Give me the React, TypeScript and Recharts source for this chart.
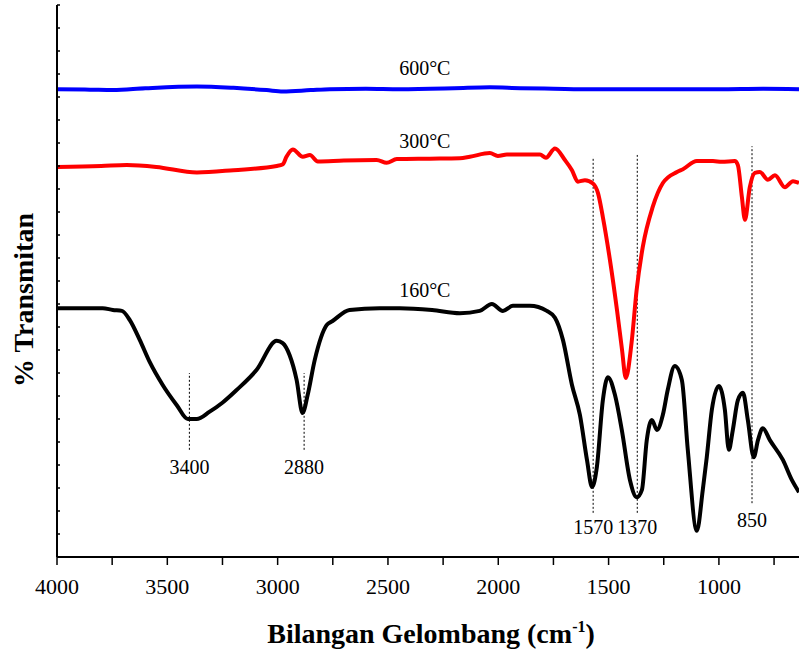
import React from 'react';
import { LineChart, Line, XAxis, YAxis, ReferenceLine, ReferenceDot } from 'recharts';

const FONT = '"Liberation Serif", "Times New Roman", Times, serif';

// 160°C spectrum (wavenumber cm-1, %T arbitrary units)
const wn160 = [4000, 3793, 3747, 3706, 3670, 3625, 3580, 3521, 3457, 3407, 3367, 3308, 3249, 3186, 3095, 3004, 2977, 2946, 2914, 2887, 2864, 2832, 2778, 2751, 2674, 2538, 2446, 2300, 2174, 2084, 2029, 1979, 1934, 1857, 1780, 1743, 1707, 1666, 1630, 1598, 1575, 1553, 1526, 1503, 1471, 1440, 1403, 1372, 1349, 1327, 1304, 1281, 1254, 1232, 1200, 1168, 1141, 1100, 1073, 1055, 1032, 1000, 973, 955, 937, 914, 891, 869, 842, 823, 801, 769, 710, 669, 637];
const t160 = [54.1, 54.1, 53.7, 53.5, 51.5, 47.2, 42.4, 37.4, 33.0, 30.0, 30.0, 31.6, 33.6, 36.3, 40.7, 47.0, 46.5, 43.9, 38.5, 31.3, 35.2, 42.8, 50.4, 51.3, 53.7, 54.1, 54.1, 53.7, 53.0, 53.5, 55.0, 53.5, 54.6, 54.6, 53.5, 52.0, 47.2, 37.4, 30.9, 21.1, 15.2, 19.6, 34.1, 39.1, 35.2, 27.6, 16.7, 13.0, 14.6, 25.4, 29.8, 27.6, 30.9, 36.3, 41.5, 38.5, 23.3, 5.7, 14.6, 21.7, 32.0, 37.2, 32.0, 23.3, 27.6, 34.1, 35.7, 29.8, 21.7, 25.4, 28.0, 25.4, 21.1, 16.7, 14.1];

// 300°C spectrum
const wn300 = [4000, 3800, 3684, 3550, 3366, 3200, 3004, 2976, 2960, 2931, 2886, 2854, 2818, 2700, 2551, 2506, 2460, 2310, 2174, 2129, 2038, 2002, 1961, 1811, 1784, 1743, 1698, 1666, 1639, 1607, 1571, 1548, 1526, 1494, 1462, 1439, 1422, 1396, 1373, 1345, 1300, 1254, 1190, 1163, 1100, 1027, 987, 928, 914, 896, 882, 860, 837, 814, 778, 746, 701, 664, 637];
const t300 = [84.8, 85.0, 85.2, 84.8, 83.6, 84.1, 85.0, 85.4, 87.0, 88.6, 87.0, 87.4, 86.0, 86.2, 86.3, 85.7, 86.5, 86.6, 86.7, 87.0, 87.8, 87.2, 87.5, 87.5, 86.8, 88.8, 86.3, 84.1, 81.6, 81.9, 81.2, 79.1, 73.9, 64.6, 53.7, 45.0, 38.9, 46.5, 58.0, 67.4, 76.1, 81.3, 83.7, 84.3, 86.1, 86.1, 85.9, 86.1, 85.2, 78.3, 73.3, 80.4, 83.5, 83.7, 82.0, 83.0, 80.4, 81.7, 81.3];

// 600°C spectrum
const wn600 = [4000, 3850, 3747, 3600, 3366, 3200, 3050, 2976, 2850, 2763, 2600, 2446, 2200, 2038, 1900, 1750, 1571, 1300, 1000, 800, 637];
const t600 = [101.7, 101.6, 101.5, 101.9, 102.3, 102.0, 101.5, 101.2, 101.5, 101.7, 101.8, 101.7, 101.9, 102.1, 101.9, 101.8, 101.7, 101.7, 101.7, 101.8, 101.7];

const xTicks = [4000, 3750, 3500, 3250, 3000, 2750, 2500, 2250, 2000, 1750, 1500, 1250, 1000, 750];
const yTicks = [0, 5, 10, 15, 20, 25, 30, 35, 40, 45, 50, 55, 60, 65, 70, 75, 80, 85, 90, 95, 100, 105, 110, 115, 120];

// peak markers
const peakWn = [3400, 2880, 1570, 1370, 850];
const peakLow = [23.3, 23.3, 9.6, 9.6, 11.7];
const peakHigh = [40.0, 40.0, 87.0, 87.4, 89.3];
const peakLabelT = [18.0, 18.0, 5.0, 5.0, 6.5];

// series labels
const seriesNames = ['600°C', '300°C', '160°C'];
const seriesLabelWn = [2333, 2333, 2333];
const seriesLabelT = [104.8, 88.9, 56.5];

const zip = (xs: number[], ys: number[]) => xs.map((wn, i) => ({ wn, t: ys[i] }));
const d160 = zip(wn160, t160);
const d300 = zip(wn300, t300);
const d600 = zip(wn600, t600);

const BottomTick = (props: any) => {
  const { x, y, payload } = props;
  const v = payload.value;
  return (
    <g>
      <line x1={x} x2={x} y1={y} y2={y + 8} stroke="#000" strokeWidth={1.5} />
      {v % 500 === 0 && (
        <text x={x} y={y + 37} textAnchor="middle" fontFamily={FONT} fontSize={22} fill="#000">
          {v}
        </text>
      )}
    </g>
  );
};

const TopTick = (props: any) => {
  const { x, y } = props;
  return <line x1={x} x2={x} y1={y} y2={y + 4} stroke="#000" strokeWidth={1.5} />;
};

const LeftTick = (props: any) => {
  const { x, y } = props;
  return <line x1={x} x2={x + 3} y1={y} y2={y} stroke="#000" strokeWidth={1.5} />;
};

const XTitle = (props: any) => {
  const vb = props.viewBox || { x: 57, y: 557, width: 742, height: 94 };
  const cx = vb.x + vb.width / 2 + 3;
  const cy = vb.y + 86;
  return (
    <text x={cx} y={cy} textAnchor="middle" fontFamily={FONT} fontWeight="bold" fontSize={28} fill="#000">
      Bilangan Gelombang (cm
      <tspan dy={-11} fontSize={16}>-1</tspan>
      <tspan dy={11}>)</tspan>
    </text>
  );
};

const YTitle = (props: any) => {
  const vb = props.viewBox || { x: 0, y: 5, width: 57, height: 552 };
  const x = vb.x + 33;
  const y = vb.y + 295;
  return (
    <text
      x={x}
      y={y}
      transform={`rotate(-90, ${x}, ${y})`}
      textAnchor="middle"
      fontFamily={FONT}
      fontWeight="bold"
      fontSize={28}
      fill="#000"
    >
      % Transmitan
    </text>
  );
};

const makeTextLabel = (text: string) => (props: any) => {
  const vb = props.viewBox || { x: 0, y: 0, width: 0, height: 0 };
  const cx = vb.x + (vb.width || 0) / 2;
  const cy = vb.y + (vb.height || 0) / 2;
  return (
    <text x={cx} y={cy} textAnchor="middle" fontFamily={FONT} fontSize={20} fill="#000">
      {text}
    </text>
  );
};

export default function App() {
  return (
    <div style={{ position: 'absolute', left: 0, top: 0, background: '#fff' }}>
      <LineChart width={799} height={651} margin={{ top: 5, right: 0, bottom: 0, left: 0 }}>
        <XAxis
          xAxisId={0}
          dataKey="wn"
          type="number"
          domain={[637, 4000]}
          reversed
          allowDataOverflow
          ticks={xTicks}
          interval={0}
          height={94}
          tickSize={0}
          tickMargin={0}
          tickLine={false}
          tick={<BottomTick />}
          axisLine={{ stroke: '#000', strokeWidth: 2 }}
          label={<XTitle />}
        />
        <XAxis
          xAxisId="top"
          orientation="top"
          dataKey="wn"
          type="number"
          domain={[637, 4000]}
          reversed
          allowDataOverflow
          ticks={xTicks}
          interval={0}
          height={0}
          tickSize={0}
          tickMargin={0}
          tickLine={false}
          tick={<TopTick />}
          axisLine={{ stroke: '#000', strokeWidth: 1.5 }}
        />
        <YAxis
          type="number"
          domain={[0, 120]}
          ticks={yTicks}
          interval={0}
          width={57}
          tickSize={0}
          tickMargin={0}
          tickLine={false}
          tick={<LeftTick />}
          axisLine={{ stroke: '#000', strokeWidth: 2 }}
          allowDataOverflow
          label={<YTitle />}
        />
        {peakWn.map((wn, i) => (
          <ReferenceLine
            key={'pl' + i}
            segment={[
              { x: wn, y: peakLow[i] },
              { x: wn, y: peakHigh[i] },
            ]}
            stroke="#000"
            strokeWidth={1}
            strokeDasharray="2 2"
          />
        ))}
        <Line data={d600} dataKey="t" type="monotone" stroke="#0000ff" strokeWidth={4} dot={false} isAnimationActive={false} />
        <Line data={d300} dataKey="t" type="monotone" stroke="#ff0000" strokeWidth={4} dot={false} isAnimationActive={false} />
        <Line data={d160} dataKey="t" type="monotone" stroke="#000000" strokeWidth={4} dot={false} isAnimationActive={false} />
        {peakWn.map((wn, i) => (
          <ReferenceDot
            key={'pt' + i}
            x={wn}
            y={peakLabelT[i]}
            r={1}
            fill="none"
            stroke="none"
            label={makeTextLabel(String(wn))}
          />
        ))}
        {seriesNames.map((name, i) => (
          <ReferenceDot
            key={'sn' + i}
            x={seriesLabelWn[i]}
            y={seriesLabelT[i]}
            r={1}
            fill="none"
            stroke="none"
            label={makeTextLabel(name)}
          />
        ))}
      </LineChart>
    </div>
  );
}
